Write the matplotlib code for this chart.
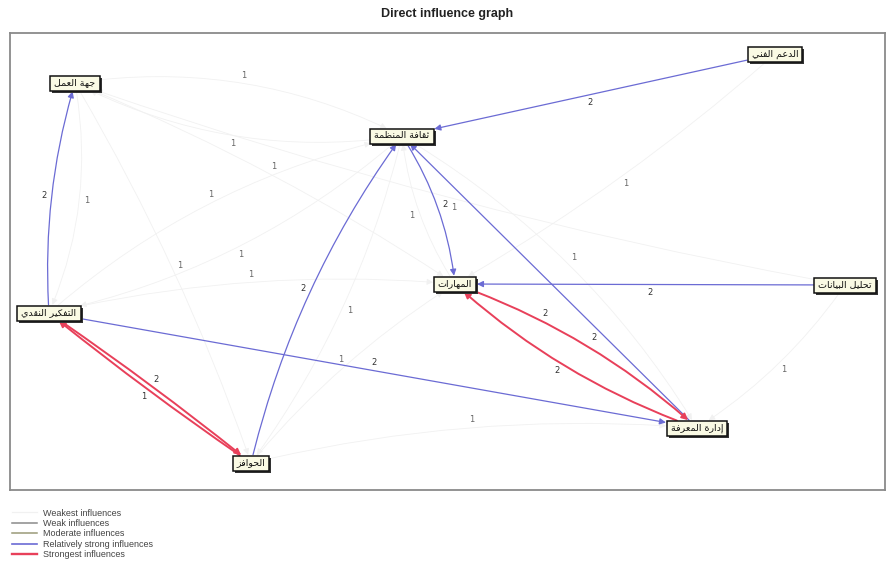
import matplotlib
matplotlib.use('Agg')
import matplotlib.pyplot as plt
from matplotlib.patches import Rectangle, FancyArrowPatch
from matplotlib.lines import Line2D
import numpy as np

# ---- data ----
node_names = ['جهة العمل', 'ثقافة المنظمة', 'الدعم الفني', 'المهارات',
              'تحليل البيانات', 'التفكير النقدي', 'إدارة المعرفة', 'الحوافز']
node_x = [75, 402, 775, 455, 845, 49, 697, 251]
node_y = [83, 136, 54, 284, 285, 313, 428, 463]

edge_src = [2, 5, 1, 7, 4, 5, 6, 5, 7, 3, 6,
            0, 1, 0, 5, 1, 0, 0, 5, 1, 7, 3, 4, 2, 1, 4, 7]
edge_dst = [1, 0, 3, 1, 3, 6, 1, 7, 5, 6, 3,
            1, 0, 3, 1, 5, 5, 7, 3, 7, 3, 1, 0, 3, 6, 6, 6]
edge_weight = [2, 2, 2, 2, 2, 2, 2, 2, 1, 2, 2,
               1, 1, 1, 1, 1, 1, 1, 1, 1, 1, 1, 1, 1, 1, 1, 1]
# 0 weakest, 1 weak, 2 moderate, 3 relatively strong, 4 strongest
edge_level = [3, 3, 3, 3, 3, 3, 3, 4, 4, 4, 4,
              0, 0, 0, 0, 0, 0, 0, 0, 0, 0, 0, 0, 0, 0, 0, 0]

level_names = ['Weakest influences', 'Weak influences', 'Moderate influences',
               'Relatively strong influences', 'Strongest influences']

# ---- layout / styles ----
edge_rad = [0, -0.09, -0.12, -0.10, 0, 0, 0, -0.02, -0.02, -0.1, -0.1,
            -0.16, -0.16, -0.05, -0.13, -0.13, -0.15, -0.05, -0.08, -0.1,
            -0.08, -0.12, -0.04, -0.05, -0.125, -0.1, -0.08]
edge_label_t = [0.5, 0.5, 0.5, 0.5, 0.5, 0.5, 0.33, 0.5, 0.5, 0.33, 0.53,
                0.5, 0.5, 0.5, 0.5, 0.5, 0.5, 0.5, 0.5, 0.5, 0.5, 0.5, 0.5, 0.5, 0.5, 0.5, 0.5]
level_color = ['#f1f1f1', '#8a8a8a', '#9a9a78', '#6b6bd4', '#e8405a']
level_lw = [0.6, 0.8, 0.8, 0.9, 1.4]


# minimal arabic shaping (presentation forms), matplotlib has no shaper
_forms = {'ء': ['\uFE80']}
for ch, base, n in [('آ', 0xFE81, 2), ('أ', 0xFE83, 2), ('ؤ', 0xFE85, 2), ('إ', 0xFE87, 2),
                    ('ئ', 0xFE89, 4), ('ا', 0xFE8D, 2), ('ب', 0xFE8F, 4), ('ة', 0xFE93, 2),
                    ('ت', 0xFE95, 4), ('ث', 0xFE99, 4), ('ج', 0xFE9D, 4), ('ح', 0xFEA1, 4),
                    ('خ', 0xFEA5, 4), ('د', 0xFEA9, 2), ('ذ', 0xFEAB, 2), ('ر', 0xFEAD, 2),
                    ('ز', 0xFEAF, 2), ('س', 0xFEB1, 4), ('ش', 0xFEB5, 4), ('ص', 0xFEB9, 4),
                    ('ض', 0xFEBD, 4), ('ط', 0xFEC1, 4), ('ظ', 0xFEC5, 4), ('ع', 0xFEC9, 4),
                    ('غ', 0xFECD, 4), ('ف', 0xFED1, 4), ('ق', 0xFED5, 4), ('ك', 0xFED9, 4),
                    ('ل', 0xFEDD, 4), ('م', 0xFEE1, 4), ('ن', 0xFEE5, 4), ('ه', 0xFEE9, 4),
                    ('و', 0xFEED, 2), ('ى', 0xFEEF, 2), ('ي', 0xFEF1, 4)]:
    _forms[ch] = [chr(base + k) for k in range(n)]
_lam_alef = {'ا': 0xFEFB, 'أ': 0xFEF7, 'إ': 0xFEF9, 'آ': 0xFEF5}


def shape_ar(text):
    out = []
    i = 0
    while i < len(text):
        c = text[i]
        if c not in _forms:
            out.append(c)
            i += 1
            continue
        prev = text[i - 1] if i > 0 else ''
        joins_prev = prev in _forms and len(_forms[prev]) == 4
        if c == 'ل' and i + 1 < len(text) and text[i + 1] in _lam_alef:
            out.append(chr(_lam_alef[text[i + 1]] + (1 if joins_prev else 0)))
            i += 2
            continue
        f = _forms[c]
        nxt = text[i + 1] if i + 1 < len(text) else ''
        joins_next = len(f) == 4 and nxt in _forms
        if joins_prev and joins_next:
            g = f[3]
        elif joins_prev:
            g = f[1]
        elif joins_next:
            g = f[2]
        else:
            g = f[0]
        out.append(g)
        i += 1
    return ''.join(reversed(out))


W, H = 894, 584
fig = plt.figure(figsize=(W / 100, H / 100), dpi=100)
ax = fig.add_axes([10 / W, 1 - 490 / H, 875 / W, 457 / H])
ax.set_xlim(10, 885)
ax.set_ylim(490, 33)
ax.set_xticks([])
ax.set_yticks([])
for s in ax.spines.values():
    s.set_color('#8a8a8a')
    s.set_linewidth(1.3)

fig.text(0.5, 1 - 14 / H, 'Direct influence graph', ha='center', va='center',
         fontsize=9, fontweight='bold', family='Liberation Sans', color='#222')

# nodes
renderer = fig.canvas.get_renderer()
boxes = []
for name, x, y in zip(node_names, node_x, node_y):
    t = ax.text(x, y, shape_ar(name), ha='center', va='center', fontsize=6.8,
                family='DejaVu Sans', color='#111', zorder=7)
    bb = t.get_window_extent(renderer)
    w, h = bb.width + 8, 15
    ax.add_patch(Rectangle((x - w / 2 + 2, y - h / 2 + 2), w, h, fc='#333333',
                           ec='none', zorder=5))
    box = Rectangle((x - w / 2, y - h / 2), w, h, fc='#fafae4', ec='#111111',
                    lw=1.1, zorder=6)
    ax.add_patch(box)
    boxes.append(box)

# edges + weight labels
for k in range(len(edge_src)):
    a, b = edge_src[k], edge_dst[k]
    lv = edge_level[k]
    rad = edge_rad[k]
    arr = FancyArrowPatch((node_x[a], node_y[a]), (node_x[b], node_y[b]),
                          connectionstyle=f'arc3,rad={rad}', arrowstyle='-|>',
                          mutation_scale=9, color=level_color[lv], lw=level_lw[lv],
                          patchA=boxes[a], patchB=boxes[b], shrinkA=1, shrinkB=1,
                          zorder=2 + lv * 0.2)
    ax.add_patch(arr)

    p0 = np.array([node_x[a], node_y[a]], float)
    p2 = np.array([node_x[b], node_y[b]], float)
    d = p2 - p0
    L = np.hypot(*d)
    c = (p0 + p2) / 2 + rad * np.array([-d[1], d[0]])
    tt = edge_label_t[k]
    pt = (1 - tt) ** 2 * p0 + 2 * (1 - tt) * tt * c + tt ** 2 * p2
    pt = pt + 8 * np.array([d[1], -d[0]]) / L
    ax.text(pt[0], pt[1], str(edge_weight[k]), ha='center', va='center',
            fontsize=6, color='#333' if lv > 0 else '#666', zorder=8)

# legend
handles = [Line2D([], [], color=level_color[i], lw=level_lw[i] + 0.3) for i in range(5)]
leg = fig.legend(handles, level_names, loc='upper left', bbox_to_anchor=(8 / W, 1 - 505 / H),
                 frameon=False, handlelength=2.8, handletextpad=0.7,
                 labelspacing=0.15, borderaxespad=0,
                 prop={'family': 'Liberation Sans', 'size': 6.5})
for txt in leg.get_texts():
    txt.set_color('#444')

fig.savefig('out.png', dpi=100)
